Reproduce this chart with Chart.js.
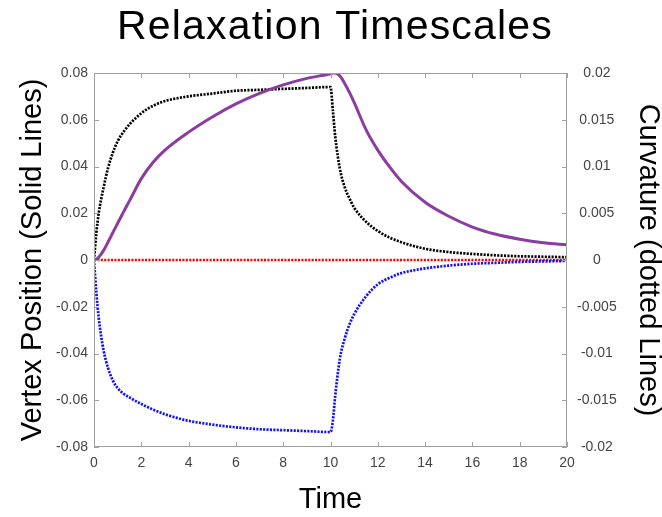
<!DOCTYPE html>
<html>
<head>
<meta charset="utf-8">
<title>Relaxation Timescales</title>
<script src="https://cdn.jsdelivr.net/npm/chart.js@4.4.1/dist/chart.umd.min.js"></script>
<style>
    html, body { margin: 0; padding: 0; background: #ffffff; }
    #wrap { width: 662px; height: 517px; }
</style>
</head>
<body>
<div id="wrap"><canvas id="chart" width="662" height="517"></canvas></div>
<script>
'use strict';

var chartTitle = 'Relaxation Timescales';

// time samples (shared by the solid and the two curved dotted lines)
var time = [0, 0.1, 0.2, 0.4, 0.6, 0.8, 1, 1.25, 1.5, 2, 2.5, 3, 4, 5, 6, 7, 8, 9, 10,
    10.1, 10.2, 10.4, 10.6, 10.8, 11, 11.5, 12, 12.5, 13, 14, 15, 16, 17, 18, 19, 20];

// vertex position, left axis (solid purple)
var vertexPosition = [0, 0.0004, 0.0012, 0.004, 0.0078, 0.0118, 0.0157, 0.0206, 0.0253, 0.0348, 0.0418, 0.047,
    0.0547, 0.0612, 0.0668, 0.0713, 0.0749, 0.0777, 0.0797,
    0.08, 0.08, 0.0787, 0.0755, 0.0717, 0.0674, 0.0558, 0.047, 0.0398, 0.0336, 0.0247, 0.0187, 0.0141,
    0.011, 0.0089, 0.0074, 0.0065];

// curvature, right axis (dotted)
var curvatureBlack = [0, 0.0029, 0.005, 0.0077, 0.0099, 0.0115, 0.0127, 0.0137, 0.0145, 0.0157, 0.0165, 0.017,
    0.0175, 0.0178, 0.0181, 0.0182, 0.0183, 0.0184, 0.0185,
    0.016, 0.0132, 0.0097, 0.0078, 0.0066, 0.0056, 0.0041, 0.0031, 0.0024, 0.0019, 0.0012, 0.00085, 0.00065,
    0.0005, 0.0004, 0.00035, 0.0003];

var curvatureBlue = [0, -0.0035, -0.0062, -0.0096, -0.0116, -0.0129, -0.0137, -0.0143, -0.0147, -0.0154, -0.016, -0.0165,
    -0.0172, -0.0176, -0.0179, -0.0181, -0.0182, -0.0183, -0.0184,
    -0.0172, -0.0145, -0.0105, -0.0084, -0.0069, -0.0058, -0.0039, -0.0026, -0.0019, -0.0014, -0.0009, -0.0006, -0.0004,
    -0.0003, -0.0002, -0.00015, -0.0001];

var redTime = [0, 20];
var curvatureRed = [0, 0];

var xTickStep = 2;
var leftTickStep = 0.02;
var rightTickStep = 0.005;

var FONT = "'Liberation Sans', Arial, Helvetica, sans-serif";

function toPoints(xs, ys) {
    return xs.map(function(x, i) {
        return { x: x, y: ys[i] };
    });
}

function trimNumber(digits) {
    return function(value) {
        return String(Number(Number(value).toFixed(digits)));
    };
}

// the title is drawn by hand so it can be letter spaced like the original
var spacedTitle = {
    id: 'spacedTitle',
    afterDraw: function(chart) {
        var ctx = chart.ctx;
        ctx.save();
        ctx.font = '41px ' + FONT;
        ctx.fillStyle = '#000000';
        ctx.textAlign = 'center';
        ctx.textBaseline = 'alphabetic';
        if ('letterSpacing' in ctx) {
            ctx.letterSpacing = '1.2px';
        }
        ctx.fillText(chartTitle, 335, 38.5);
        ctx.restore();
    }
};

// box round the plot with short ticks pointing inwards on every side
var frameTicks = {
    id: 'frameTicks',
    afterDatasetsDraw: function(chart) {
        var ctx = chart.ctx,
            area = chart.chartArea,
            len = 5;
        var xs = chart.scales.x,
            yl = chart.scales.y,
            yr = chart.scales.y2;

        ctx.save();
        ctx.strokeStyle = '#a0a0a0';
        ctx.lineWidth = 1;
        ctx.beginPath();
        ctx.rect(area.left + 0.5, area.top + 0.5, area.right - area.left - 1, area.bottom - area.top - 1);

        xs.ticks.forEach(function(t) {
            var px = Math.round(xs.getPixelForValue(t.value)) + 0.5;
            ctx.moveTo(px, area.bottom);
            ctx.lineTo(px, area.bottom - len);
            ctx.moveTo(px, area.top);
            ctx.lineTo(px, area.top + len);
        });
        yl.ticks.forEach(function(t) {
            var py = Math.round(yl.getPixelForValue(t.value)) + 0.5;
            ctx.moveTo(area.left, py);
            ctx.lineTo(area.left + len, py);
        });
        yr.ticks.forEach(function(t) {
            var py = Math.round(yr.getPixelForValue(t.value)) + 0.5;
            ctx.moveTo(area.right, py);
            ctx.lineTo(area.right - len, py);
        });
        ctx.stroke();
        ctx.restore();
    }
};

function dotted(label, color, xs, ys) {
    return {
        label: label,
        data: toPoints(xs, ys),
        yAxisID: 'y2',
        borderColor: color,
        borderWidth: 2.7,
        borderDash: [2.1, 1.3],
        borderCapStyle: 'butt',
        pointRadius: 0,
        fill: false,
        cubicInterpolationMode: 'monotone'
    };
}

var datasets = [
    {
        label: 'Vertex Position',
        data: toPoints(time, vertexPosition),
        yAxisID: 'y',
        borderColor: '#8a3d9e',
        borderWidth: 3,
        pointRadius: 0,
        fill: false,
        cubicInterpolationMode: 'monotone'
    },
    dotted('Curvature (black)', '#000000', time, curvatureBlack),
    dotted('Curvature (blue)', '#1010ff', time, curvatureBlue),
    dotted('Curvature (red)', '#ff0000', redTime, curvatureRed)
];

var tickFont = { family: FONT, size: 14 };
var titleFont = { family: FONT, size: 29, lineHeight: 1 };

new Chart(document.getElementById('chart'), {
    type: 'line',
    data: { datasets: datasets },
    plugins: [frameTicks, spacedTitle],
    options: {
        responsive: false,
        animation: false,
        events: [],
        layout: { padding: { top: 73, left: 0, right: 0, bottom: 0 } },
        plugins: {
            legend: { display: false },
            tooltip: { enabled: false },
            title: { display: false }
        },
        scales: {
            x: {
                type: 'linear',
                min: 0,
                max: 20,
                grid: { display: false, drawTicks: false },
                border: { display: false },
                ticks: { stepSize: xTickStep, color: '#444444', font: tickFont, padding: 8, maxRotation: 0 },
                title: { display: true, text: 'Time', color: '#000000', font: titleFont, padding: { top: 0, bottom: 2.5 } },
                afterFit: function(scale) { scale.height = 70; }
            },
            y: {
                position: 'left',
                min: -0.08,
                max: 0.08,
                grid: { display: false, drawTicks: false },
                border: { display: false },
                ticks: { stepSize: leftTickStep, color: '#444444', font: tickFont, padding: 6, callback: trimNumber(2) },
                title: { display: true, text: 'Vertex Position (Solid Lines)', color: '#000000', font: titleFont, padding: { top: 18.5, bottom: 0 } },
                afterFit: function(scale) { scale.width = 94; }
            },
            y2: {
                position: 'right',
                min: -0.02,
                max: 0.02,
                grid: { display: false, drawTicks: false },
                border: { display: false },
                ticks: { stepSize: rightTickStep, color: '#444444', font: tickFont, padding: 10, crossAlign: 'center', callback: trimNumber(3) },
                title: { display: true, text: 'Curvature (dotted Lines)', color: '#000000', font: titleFont, padding: { top: 0, bottom: 0 } },
                afterFit: function(scale) { scale.width = 95; }
            }
        }
    }
});
</script>
</body>
</html>
